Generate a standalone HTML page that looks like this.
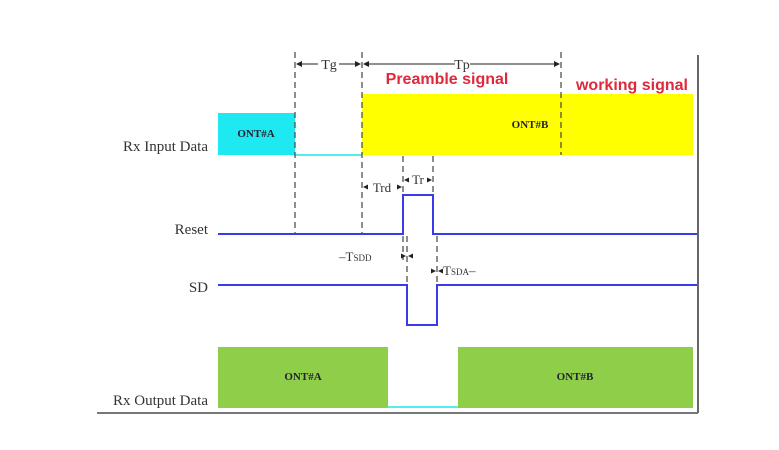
<!DOCTYPE html>
<html><head><style>body{margin:0;background:#fff}svg{display:block}</style></head><body>
<svg width="779" height="450" xmlns="http://www.w3.org/2000/svg" font-family="Liberation Serif, serif">
<line x1="698" y1="55" x2="698" y2="413" stroke="#666" stroke-width="2"/>
<line x1="97" y1="413" x2="698" y2="413" stroke="#777" stroke-width="2"/>
<rect x="218" y="113" width="77" height="42" fill="#1ee8f0"/>
<line x1="295" y1="155" x2="362" y2="155" stroke="#5ee" stroke-width="2"/>
<rect x="362" y="94" width="331" height="61" fill="#ffff00"/>
<text x="256" y="137" font-size="11" font-weight="bold" text-anchor="middle" fill="#223">ONT#A</text>
<text x="530" y="128" font-size="11" font-weight="bold" text-anchor="middle" fill="#223">ONT#B</text>
<text x="447" y="84" font-size="16" font-weight="bold" font-family="Liberation Sans, sans-serif" fill="#e0283c" text-anchor="middle">Preamble signal</text>
<text x="632" y="90" font-size="16" font-weight="bold" font-family="Liberation Sans, sans-serif" fill="#e0283c" text-anchor="middle">working signal</text>
<g stroke="#444" stroke-width="1.2" stroke-dasharray="6,4" fill="none">
<line x1="295" y1="52" x2="295" y2="235"/>
<line x1="362" y1="52" x2="362" y2="235"/>
<line x1="561" y1="52" x2="561" y2="155"/>
<line x1="403" y1="156" x2="403" y2="260"/>
<line x1="433" y1="156" x2="433" y2="198"/>
<line x1="407" y1="236" x2="407" y2="290"/>
<line x1="437" y1="236" x2="437" y2="290"/>
</g>
<g stroke="#222" stroke-width="1">
<line x1="297" y1="64" x2="318" y2="64"/><line x1="339" y1="64" x2="360" y2="64"/>
<line x1="364" y1="64" x2="455" y2="64"/><line x1="470" y1="64" x2="559" y2="64"/>
</g>
<g fill="#222">
<path d="M296 64l6-3v6z"/><path d="M361 64l-6-3v6z"/><path d="M363 64l6-3v6z"/><path d="M560 64l-6-3v6z"/>
<path d="M363 187l5-2.5v5z"/><path d="M402 187l-5-2.5v5z"/><path d="M404 180l5-2.5v5z"/><path d="M432 180l-5-2.5v5z"/>
<path d="M406 256l-5-2.5v5z"/><path d="M408 256l5-2.5v5z"/><path d="M436 271l-5-2.5v5z"/><path d="M438 271l5-2.5v5z"/>
</g>
<g font-size="14" fill="#333" text-anchor="middle">
<text x="329" y="69">Tg</text><text x="462" y="69">Tp</text>
<text x="382" y="192" font-size="13">Trd</text><text x="418" y="184" font-size="13">Tr</text>
</g>
<text x="339" y="261" font-size="13" fill="#333">–T<tspan font-size="9">SDD</tspan></text>
<text x="443" y="275" font-size="13" fill="#333">T<tspan font-size="9">SDA</tspan>–</text>
<polyline points="218,234 403,234 403,195 433,195 433,234 697,234" fill="none" stroke="#3a3ae8" stroke-width="2"/>
<polyline points="218,285 407,285 407,325 437,325 437,285 697,285" fill="none" stroke="#3a3ae8" stroke-width="2"/>
<rect x="218" y="347" width="170" height="61" fill="#8fce48"/>
<rect x="458" y="347" width="235" height="61" fill="#8fce48"/>
<line x1="388" y1="407" x2="458" y2="407" stroke="#5ee" stroke-width="2"/>
<text x="303" y="380" font-size="11" font-weight="bold" text-anchor="middle" fill="#223">ONT#A</text>
<text x="575" y="380" font-size="11" font-weight="bold" text-anchor="middle" fill="#223">ONT#B</text>
<g font-size="15" fill="#333" text-anchor="end">
<text x="208" y="151">Rx Input Data</text>
<text x="208" y="234">Reset</text>
<text x="208" y="292">SD</text>
<text x="208" y="405">Rx Output Data</text>
</g>
</svg>
</body></html>
